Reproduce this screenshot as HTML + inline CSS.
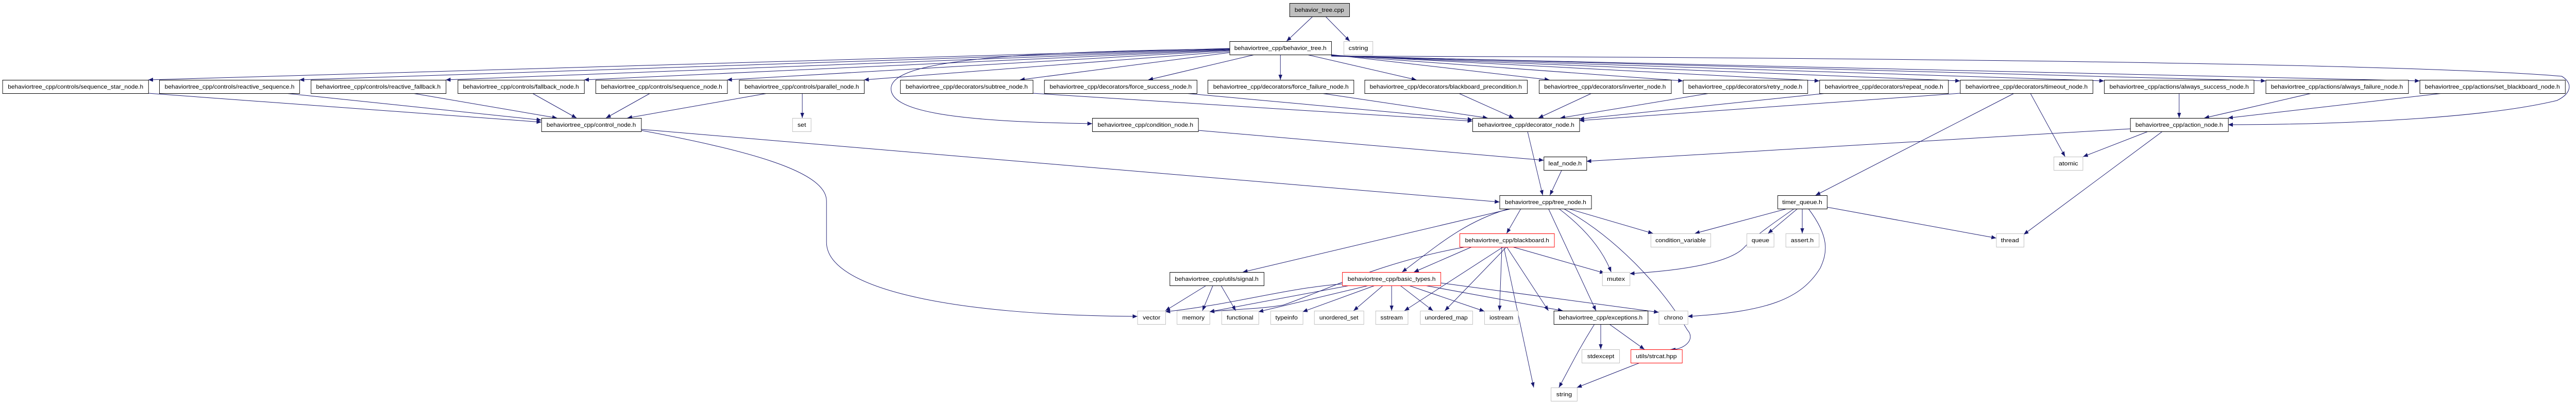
<!DOCTYPE html>
<html><head><meta charset="utf-8"><style>
html,body{margin:0;padding:0;background:#fff;width:100%;height:100%;overflow:hidden;}
svg{display:block;width:100vw;height:100vh}
text{font-family:"Liberation Sans",sans-serif;font-size:11px;fill:#000}
.n{fill:#fff;stroke:#000;stroke-width:1}
.g{fill:#fff;stroke:#bfbfbf;stroke-width:1}
.r{fill:#fff;stroke:#ff0000;stroke-width:1}
.root{fill:#bfbfbf;stroke:#000;stroke-width:1}
.e{fill:none;stroke:#191970;stroke-width:1;marker-end:url(#a)}
</style></head><body>
<svg viewBox="0 0 5420 784" preserveAspectRatio="none" xmlns="http://www.w3.org/2000/svg">
<defs><marker id="a" markerUnits="userSpaceOnUse" markerWidth="11" markerHeight="9" refX="10" refY="4" orient="auto"><path d="M0,0 L10,4 L0,8 z" fill="#191970"/></marker></defs>

<path class="e" d="M2762,32 L2707,80"/>
<path class="e" d="M2789,32 L2840,80"/>
<path class="e" d="M2587,94 L312,155"/>
<path class="e" d="M2587,95 L630,155"/>
<path class="e" d="M2587,96 L938,155"/>
<path class="e" d="M2587,97 L1229,155"/>
<path class="e" d="M2587,98 L1530,155"/>
<path class="e" d="M2587,100 L1818,155"/>
<path class="e" d="M2587,102 L2146,155"/>
<path class="e" d="M2640,106 L2416,155"/>
<path class="e" d="M2694,106 L2694,155"/>
<path class="e" d="M2750,106 L2980,155"/>
<path class="e" d="M2801,106 L3260,155"/>
<path class="e" d="M2801,107 L3541,157"/>
<path class="e" d="M2801,107 L3828,157"/>
<path class="e" d="M2801,108 L4124,157"/>
<path class="e" d="M2801,108 L4427,157"/>
<path class="e" d="M2801,108 L4767,157"/>
<path class="e" d="M2801,109 L5091,157"/>
<path class="e" d="M2801,109 C3500,110 5000,118 5390,148 C5412,160 5413,180 5380,195 C5200,235 4850,242 4688,242"/>
<path class="e" d="M2587,95 C2100,100 1880,120 1875,170 C1870,215 2000,236 2298,240"/>
<path class="e" d="M312,181 L1139,237"/>
<path class="e" d="M600,181 L1139,233"/>
<path class="e" d="M868,181 L1172,229"/>
<path class="e" d="M1120,181 L1213,229"/>
<path class="e" d="M1368,181 L1275,229"/>
<path class="e" d="M1615,181 L1320,229"/>
<path class="e" d="M1688,181 L1688,229"/>
<path class="e" d="M2173,181 L3098,235"/>
<path class="e" d="M2493,181 L3098,232"/>
<path class="e" d="M2780,181 L3130,229"/>
<path class="e" d="M3069,181 L3185,229"/>
<path class="e" d="M3349,181 L3237,229"/>
<path class="e" d="M3597,181 L3283,229"/>
<path class="e" d="M3843,181 L3323,231"/>
<path class="e" d="M4124,181 L3323,234"/>
<path class="e" d="M4585,181 L4585,229"/>
<path class="e" d="M4864,181 L4638,229"/>
<path class="e" d="M5140,181 L4688,229"/>
<path class="e" d="M1349,251 L3155,392"/>
<path class="e" d="M1349,253 C1560,290 1739,330 1739,390 L1739,470 C1739,560 2000,612 2393,614"/>
<path class="e" d="M2521,253 L3248,311"/>
<path class="e" d="M4482,250 L3338,313"/>
<path class="e" d="M3214,255 L3246,379"/>
<path class="e" d="M3286,330 L3261,379"/>
<path class="e" d="M4272,181 L4345,304"/>
<path class="e" d="M4238,181 L3820,379"/>
<path class="e" d="M4520,255 L4383,304"/>
<path class="e" d="M4550,255 L4258,455"/>
<path class="e" d="M3844,402 L4200,462"/>
<path class="e" d="M3760,405 L3566,453"/>
<path class="e" d="M3775,405 C3720,440 3690,460 3670,480 C3640,510 3540,525 3429,531"/>
<path class="e" d="M3782,405 L3720,453"/>
<path class="e" d="M3792,405 L3792,453"/>
<path class="e" d="M3805,405 C3850,460 3845,490 3830,520 C3790,580 3720,605 3551,614"/>
<path class="e" d="M3200,405 L3170,453"/>
<path class="e" d="M3258,405 L3358,603"/>
<path class="e" d="M3280,405 C3330,440 3370,480 3390,528"/>
<path class="e" d="M3300,405 L3478,453"/>
<path class="e" d="M3290,405 C3400,460 3500,560 3550,640 C3570,660 3540,680 3515,678"/>
<path class="e" d="M3180,405 L2615,528"/>
<path class="e" d="M3175,405 C3080,430 3020,480 2950,528"/>
<path class="e" d="M3097,479 L2975,528"/>
<path class="e" d="M3084,479 C2900,510 2800,560 2700,592 C2650,600 2590,600 2545,605"/>
<path class="e" d="M3163,479 L2955,603"/>
<path class="e" d="M3170,479 L3040,603"/>
<path class="e" d="M3160,479 L3155,603"/>
<path class="e" d="M3164,479 L3227,752"/>
<path class="e" d="M3170,479 L3258,603"/>
<path class="e" d="M3182,479 L3376,530"/>
<path class="e" d="M2824,551 C2700,560 2600,590 2452,605"/>
<path class="e" d="M2840,554 L2545,605"/>
<path class="e" d="M2880,554 L2648,605"/>
<path class="e" d="M2893,554 L2741,605"/>
<path class="e" d="M2910,554 L2848,603"/>
<path class="e" d="M2928,554 L2928,603"/>
<path class="e" d="M2946,554 L3015,603"/>
<path class="e" d="M2964,554 L3123,604"/>
<path class="e" d="M2998,554 L3288,603"/>
<path class="e" d="M3031,549 L3490,606"/>
<path class="e" d="M2538,554 L2452,603"/>
<path class="e" d="M2552,554 L2530,603"/>
<path class="e" d="M2569,554 L2600,603"/>
<path class="e" d="M3368,629 L3368,678"/>
<path class="e" d="M3386,629 L3460,678"/>
<path class="e" d="M3355,629 C3320,680 3305,710 3280,752"/>
<path class="e" d="M3453,703 L3318,752"/>

<rect class="root" x="2713.5" y="6.5" width="126" height="26"/><text x="2776" y="23" text-anchor="middle" textLength="104" lengthAdjust="spacingAndGlyphs">behavior_tree.cpp</text>
<rect class="n" x="2587.5" y="80.5" width="214" height="26"/><text x="2694" y="97" text-anchor="middle" textLength="194" lengthAdjust="spacingAndGlyphs">behaviortree_cpp/behavior_tree.h</text>
<rect class="g" x="2827.5" y="80.5" width="61" height="26"/><text x="2858" y="97" text-anchor="middle" textLength="41" lengthAdjust="spacingAndGlyphs">cstring</text>

<rect class="n" x="5.5" y="155.5" width="307" height="26"/><text x="159" y="172" text-anchor="middle" textLength="285" lengthAdjust="spacingAndGlyphs">behaviortree_cpp/controls/sequence_star_node.h</text>
<rect class="n" x="335.5" y="155.5" width="295" height="26"/><text x="483" y="172" text-anchor="middle" textLength="273" lengthAdjust="spacingAndGlyphs">behaviortree_cpp/controls/reactive_sequence.h</text>
<rect class="n" x="654.5" y="155.5" width="284" height="26"/><text x="796" y="172" text-anchor="middle" textLength="262" lengthAdjust="spacingAndGlyphs">behaviortree_cpp/controls/reactive_fallback.h</text>
<rect class="n" x="963.5" y="155.5" width="266" height="26"/><text x="1096" y="172" text-anchor="middle" textLength="244" lengthAdjust="spacingAndGlyphs">behaviortree_cpp/controls/fallback_node.h</text>
<rect class="n" x="1253.5" y="155.5" width="277" height="26"/><text x="1392" y="172" text-anchor="middle" textLength="255" lengthAdjust="spacingAndGlyphs">behaviortree_cpp/controls/sequence_node.h</text>
<rect class="n" x="1555.5" y="155.5" width="263" height="26"/><text x="1687" y="172" text-anchor="middle" textLength="241" lengthAdjust="spacingAndGlyphs">behaviortree_cpp/controls/parallel_node.h</text>
<rect class="n" x="1894.5" y="155.5" width="279" height="26"/><text x="2034" y="172" text-anchor="middle" textLength="257" lengthAdjust="spacingAndGlyphs">behaviortree_cpp/decorators/subtree_node.h</text>
<rect class="n" x="2197.5" y="155.5" width="321" height="26"/><text x="2358" y="172" text-anchor="middle" textLength="299" lengthAdjust="spacingAndGlyphs">behaviortree_cpp/decorators/force_success_node.h</text>
<rect class="n" x="2541.5" y="155.5" width="307" height="26"/><text x="2695" y="172" text-anchor="middle" textLength="285" lengthAdjust="spacingAndGlyphs">behaviortree_cpp/decorators/force_failure_node.h</text>
<rect class="n" x="2871.5" y="155.5" width="342" height="26"/><text x="3042" y="172" text-anchor="middle" textLength="320" lengthAdjust="spacingAndGlyphs">behaviortree_cpp/decorators/blackboard_precondition.h</text>
<rect class="n" x="3238.5" y="155.5" width="278" height="26"/><text x="3377" y="172" text-anchor="middle" textLength="256" lengthAdjust="spacingAndGlyphs">behaviortree_cpp/decorators/inverter_node.h</text>
<rect class="n" x="3541.5" y="155.5" width="262" height="26"/><text x="3672" y="172" text-anchor="middle" textLength="240" lengthAdjust="spacingAndGlyphs">behaviortree_cpp/decorators/retry_node.h</text>
<rect class="n" x="3828.5" y="155.5" width="271" height="26"/><text x="3964" y="172" text-anchor="middle" textLength="249" lengthAdjust="spacingAndGlyphs">behaviortree_cpp/decorators/repeat_node.h</text>
<rect class="n" x="4124.5" y="155.5" width="279" height="26"/><text x="4264" y="172" text-anchor="middle" textLength="257" lengthAdjust="spacingAndGlyphs">behaviortree_cpp/decorators/timeout_node.h</text>
<rect class="n" x="4427.5" y="155.5" width="315" height="26"/><text x="4585" y="172" text-anchor="middle" textLength="293" lengthAdjust="spacingAndGlyphs">behaviortree_cpp/actions/always_success_node.h</text>
<rect class="n" x="4767.5" y="155.5" width="300" height="26"/><text x="4917" y="172" text-anchor="middle" textLength="278" lengthAdjust="spacingAndGlyphs">behaviortree_cpp/actions/always_failure_node.h</text>
<rect class="n" x="5091.5" y="155.5" width="306" height="26"/><text x="5244" y="172" text-anchor="middle" textLength="284" lengthAdjust="spacingAndGlyphs">behaviortree_cpp/actions/set_blackboard_node.h</text>

<rect class="n" x="1139.5" y="229.5" width="210" height="26"/><text x="1244" y="246" text-anchor="middle" textLength="188" lengthAdjust="spacingAndGlyphs">behaviortree_cpp/control_node.h</text>
<rect class="g" x="1667.5" y="229.5" width="39" height="26"/><text x="1687" y="246" text-anchor="middle" textLength="18" lengthAdjust="spacingAndGlyphs">set</text>
<rect class="n" x="2298.5" y="229.5" width="223" height="26"/><text x="2410" y="246" text-anchor="middle" textLength="201" lengthAdjust="spacingAndGlyphs">behaviortree_cpp/condition_node.h</text>
<rect class="n" x="3098.5" y="229.5" width="225" height="26"/><text x="3211" y="246" text-anchor="middle" textLength="203" lengthAdjust="spacingAndGlyphs">behaviortree_cpp/decorator_node.h</text>
<rect class="n" x="4482.5" y="229.5" width="206" height="26"/><text x="4585" y="246" text-anchor="middle" textLength="184" lengthAdjust="spacingAndGlyphs">behaviortree_cpp/action_node.h</text>

<rect class="n" x="3248.5" y="304.5" width="90" height="26"/><text x="3293" y="321" text-anchor="middle" textLength="70" lengthAdjust="spacingAndGlyphs">leaf_node.h</text>
<rect class="g" x="4321.5" y="304.5" width="61" height="26"/><text x="4352" y="321" text-anchor="middle" textLength="41" lengthAdjust="spacingAndGlyphs">atomic</text>

<rect class="n" x="3155.5" y="379.5" width="193" height="26"/><text x="3252" y="396" text-anchor="middle" textLength="171" lengthAdjust="spacingAndGlyphs">behaviortree_cpp/tree_node.h</text>
<rect class="n" x="3740.5" y="379.5" width="104" height="26"/><text x="3792" y="396" text-anchor="middle" textLength="84" lengthAdjust="spacingAndGlyphs">timer_queue.h</text>

<rect class="r" x="3071.5" y="453.5" width="199" height="26"/><text x="3171" y="470" text-anchor="middle" textLength="177" lengthAdjust="spacingAndGlyphs">behaviortree_cpp/blackboard.h</text>
<rect class="g" x="3473.5" y="453.5" width="126" height="26"/><text x="3536" y="470" text-anchor="middle" textLength="106" lengthAdjust="spacingAndGlyphs">condition_variable</text>
<rect class="g" x="3675.5" y="453.5" width="57" height="26"/><text x="3704" y="470" text-anchor="middle" textLength="37" lengthAdjust="spacingAndGlyphs">queue</text>
<rect class="g" x="3757.5" y="453.5" width="70" height="26"/><text x="3792" y="470" text-anchor="middle" textLength="48" lengthAdjust="spacingAndGlyphs">assert.h</text>
<rect class="g" x="4200.5" y="453.5" width="58" height="26"/><text x="4229" y="470" text-anchor="middle" textLength="38" lengthAdjust="spacingAndGlyphs">thread</text>

<rect class="n" x="2461.5" y="528.5" width="198" height="26"/><text x="2560" y="545" text-anchor="middle" textLength="176" lengthAdjust="spacingAndGlyphs">behaviortree_cpp/utils/signal.h</text>
<rect class="r" x="2824.5" y="528.5" width="207" height="26"/><text x="2928" y="545" text-anchor="middle" textLength="185" lengthAdjust="spacingAndGlyphs">behaviortree_cpp/basic_types.h</text>
<rect class="g" x="3371.5" y="528.5" width="58" height="26"/><text x="3400" y="545" text-anchor="middle" textLength="38" lengthAdjust="spacingAndGlyphs">mutex</text>

<rect class="g" x="2393.5" y="603.5" width="59" height="26"/><text x="2423" y="620" text-anchor="middle" textLength="37" lengthAdjust="spacingAndGlyphs">vector</text>
<rect class="g" x="2476.5" y="603.5" width="69" height="26"/><text x="2511" y="620" text-anchor="middle" textLength="47" lengthAdjust="spacingAndGlyphs">memory</text>
<rect class="g" x="2570.5" y="603.5" width="78" height="26"/><text x="2609" y="620" text-anchor="middle" textLength="56" lengthAdjust="spacingAndGlyphs">functional</text>
<rect class="g" x="2673.5" y="603.5" width="68" height="26"/><text x="2707" y="620" text-anchor="middle" textLength="47" lengthAdjust="spacingAndGlyphs">typeinfo</text>
<rect class="g" x="2765.5" y="603.5" width="104" height="26"/><text x="2817" y="620" text-anchor="middle" textLength="82" lengthAdjust="spacingAndGlyphs">unordered_set</text>
<rect class="g" x="2894.5" y="603.5" width="68" height="26"/><text x="2928" y="620" text-anchor="middle" textLength="47" lengthAdjust="spacingAndGlyphs">sstream</text>
<rect class="g" x="2988.5" y="603.5" width="110" height="26"/><text x="3043" y="620" text-anchor="middle" textLength="90" lengthAdjust="spacingAndGlyphs">unordered_map</text>
<rect class="g" x="3123.5" y="603.5" width="71" height="26"/><text x="3159" y="620" text-anchor="middle" textLength="50" lengthAdjust="spacingAndGlyphs">iostream</text>
<rect class="n" x="3269.5" y="603.5" width="198" height="26"/><text x="3368" y="620" text-anchor="middle" textLength="176" lengthAdjust="spacingAndGlyphs">behaviortree_cpp/exceptions.h</text>
<rect class="g" x="3490.5" y="603.5" width="61" height="26"/><text x="3521" y="620" text-anchor="middle" textLength="40" lengthAdjust="spacingAndGlyphs">chrono</text>

<rect class="g" x="3328.5" y="678.5" width="79" height="26"/><text x="3368" y="695" text-anchor="middle" textLength="57" lengthAdjust="spacingAndGlyphs">stdexcept</text>
<rect class="r" x="3431.5" y="678.5" width="108" height="26"/><text x="3485" y="695" text-anchor="middle" textLength="86" lengthAdjust="spacingAndGlyphs">utils/strcat.hpp</text>

<rect class="g" x="3263.5" y="752.5" width="55" height="26"/><text x="3291" y="769" text-anchor="middle" textLength="33" lengthAdjust="spacingAndGlyphs">string</text>
</svg>
</body></html>
